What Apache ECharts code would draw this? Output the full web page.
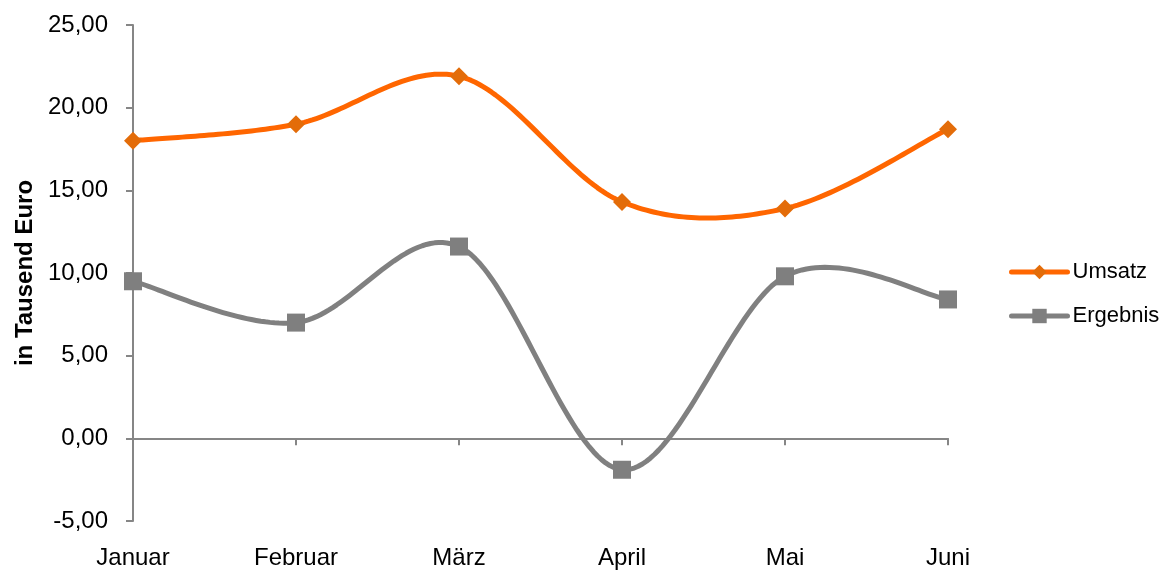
<!DOCTYPE html>
<html>
<head>
<meta charset="utf-8">
<script src="https://cdn.jsdelivr.net/npm/echarts@6/dist/echarts.min.js"></script>
<style>html,body{margin:0;padding:0;background:#fff;}#c{width:1161px;height:573px;}</style>
</head>
<body>
<div id="c"></div>
<script>
const categories = ['Januar', 'Februar', 'März', 'April', 'Mai', 'Juni'];
const umsatz = [18.0, 19.0, 21.9, 14.3, 13.9, 18.7];
const ergebnis = [9.5, 7.0, 11.6, -1.9, 9.8, 8.4];
const yTitle = 'in Tausend Euro';

const FONT = '"Liberation Sans", Arial, sans-serif';
const fmt = v => v.toFixed(2).replace('.', ',');
const ORANGE = '#FF6600', ORANGE_M = '#E36C09', GRAY = '#808080', GRAY_M = '#7F7F7F';

// Excel-like smoothed curve (Catmull-Rom style Bezier) built from axis coordinates
function smoothCurve(values) {
  return function (params, api) {
    if (params.dataIndex !== 0) return null;
    const pts = values.map((v, i) => api.coord([i, v]));
    const out = [];
    const n = pts.length;
    for (let i = 0; i < n - 1; i++) {
      const p0 = pts[Math.max(i - 1, 0)], p1 = pts[i], p2 = pts[i + 1], p3 = pts[Math.min(i + 2, n - 1)];
      const c1 = [p1[0] + (p2[0] - p0[0]) / 6, p1[1] + (p2[1] - p0[1]) / 6];
      const c2 = [p2[0] - (p3[0] - p1[0]) / 6, p2[1] - (p3[1] - p1[1]) / 6];
      const steps = 40;
      for (let s = (i === 0 ? 0 : 1); s <= steps; s++) {
        const t = s / steps, u = 1 - t;
        const a = u * u * u, b = 3 * u * u * t, c = 3 * u * t * t, d = t * t * t;
        out.push([a * p1[0] + b * c1[0] + c * c2[0] + d * p2[0], a * p1[1] + b * c1[1] + c * c2[1] + d * p2[1]]);
      }
    }
    return {
      type: 'polyline',
      shape: { points: out },
      style: { fill: null, stroke: api.visual('color'), lineWidth: 5, lineJoin: 'round', lineCap: 'round' }
    };
  };
}

const chart = echarts.init(document.getElementById('c'));
chart.setOption({
  animation: false,
  textStyle: { fontFamily: FONT },
  grid: { left: 133, right: 213, top: 25, bottom: 52, containLabel: false, outerBoundsMode: 'none' },
  legend: {
    orient: 'vertical',
    left: 1009,
    top: 261,
    padding: 0,
    itemWidth: 56,
    itemHeight: 18,
    itemGap: 22,
    textStyle: { fontFamily: FONT, fontSize: 22, color: '#000' },
    data: [
      { name: 'Umsatz', lineStyle: { color: ORANGE, width: 5, opacity: 1, cap: 'round' } },
      { name: 'Ergebnis', lineStyle: { color: GRAY, width: 5, opacity: 1, cap: 'round' } }
    ]
  },
  xAxis: [
    {
      type: 'category',
      data: categories,
      boundaryGap: false,
      axisLine: { onZero: true, lineStyle: { color: '#868686', width: 2 } },
      axisTick: { show: true, length: 7, lineStyle: { color: '#868686', width: 2 } },
      axisLabel: { show: false },
      splitLine: { show: false }
    },
    {
      type: 'category',
      data: categories,
      boundaryGap: false,
      position: 'bottom',
      axisLine: { show: false, onZero: false },
      axisTick: { show: false },
      axisLabel: { show: true, margin: 25, fontFamily: FONT, fontSize: 24, color: '#000' },
      splitLine: { show: false }
    }
  ],
  yAxis: {
    type: 'value',
    min: -5,
    max: 25,
    interval: 5,
    name: yTitle,
    nameLocation: 'middle',
    nameGap: 95,
    nameTextStyle: { fontFamily: FONT, fontSize: 24, fontWeight: 'bold', color: '#000' },
    axisLine: { show: true, lineStyle: { color: '#868686', width: 2 } },
    axisTick: { show: true, length: 7, lineStyle: { color: '#868686', width: 2 } },
    axisLabel: { margin: 25, fontFamily: FONT, fontSize: 24, color: '#000', formatter: fmt },
    splitLine: { show: false }
  },
  series: [
    {
      name: 'Umsatz',
      type: 'line',
      xAxisIndex: 0,
      data: umsatz,
      symbol: 'diamond',
      symbolSize: 18,
      z: 3,
      lineStyle: { color: ORANGE, width: 5, opacity: 0 },
      itemStyle: { color: ORANGE_M }
    },
    {
      name: 'Ergebnis',
      type: 'line',
      xAxisIndex: 0,
      data: ergebnis,
      symbol: 'rect',
      symbolSize: 18,
      z: 3,
      lineStyle: { color: GRAY, width: 5, opacity: 0 },
      itemStyle: { color: GRAY_M }
    },
    {
      name: 'Umsatz',
      type: 'custom',
      xAxisIndex: 0,
      z: 2,
      silent: true,
      itemStyle: { color: ORANGE },
      data: [[0, umsatz[0]]],
      encode: { x: 0, y: 1 },
      renderItem: smoothCurve(umsatz)
    },
    {
      name: 'Ergebnis',
      type: 'custom',
      xAxisIndex: 0,
      z: 2,
      silent: true,
      itemStyle: { color: GRAY },
      data: [[0, ergebnis[0]]],
      encode: { x: 0, y: 1 },
      renderItem: smoothCurve(ergebnis)
    }
  ]
});
</script>
</body>
</html>
